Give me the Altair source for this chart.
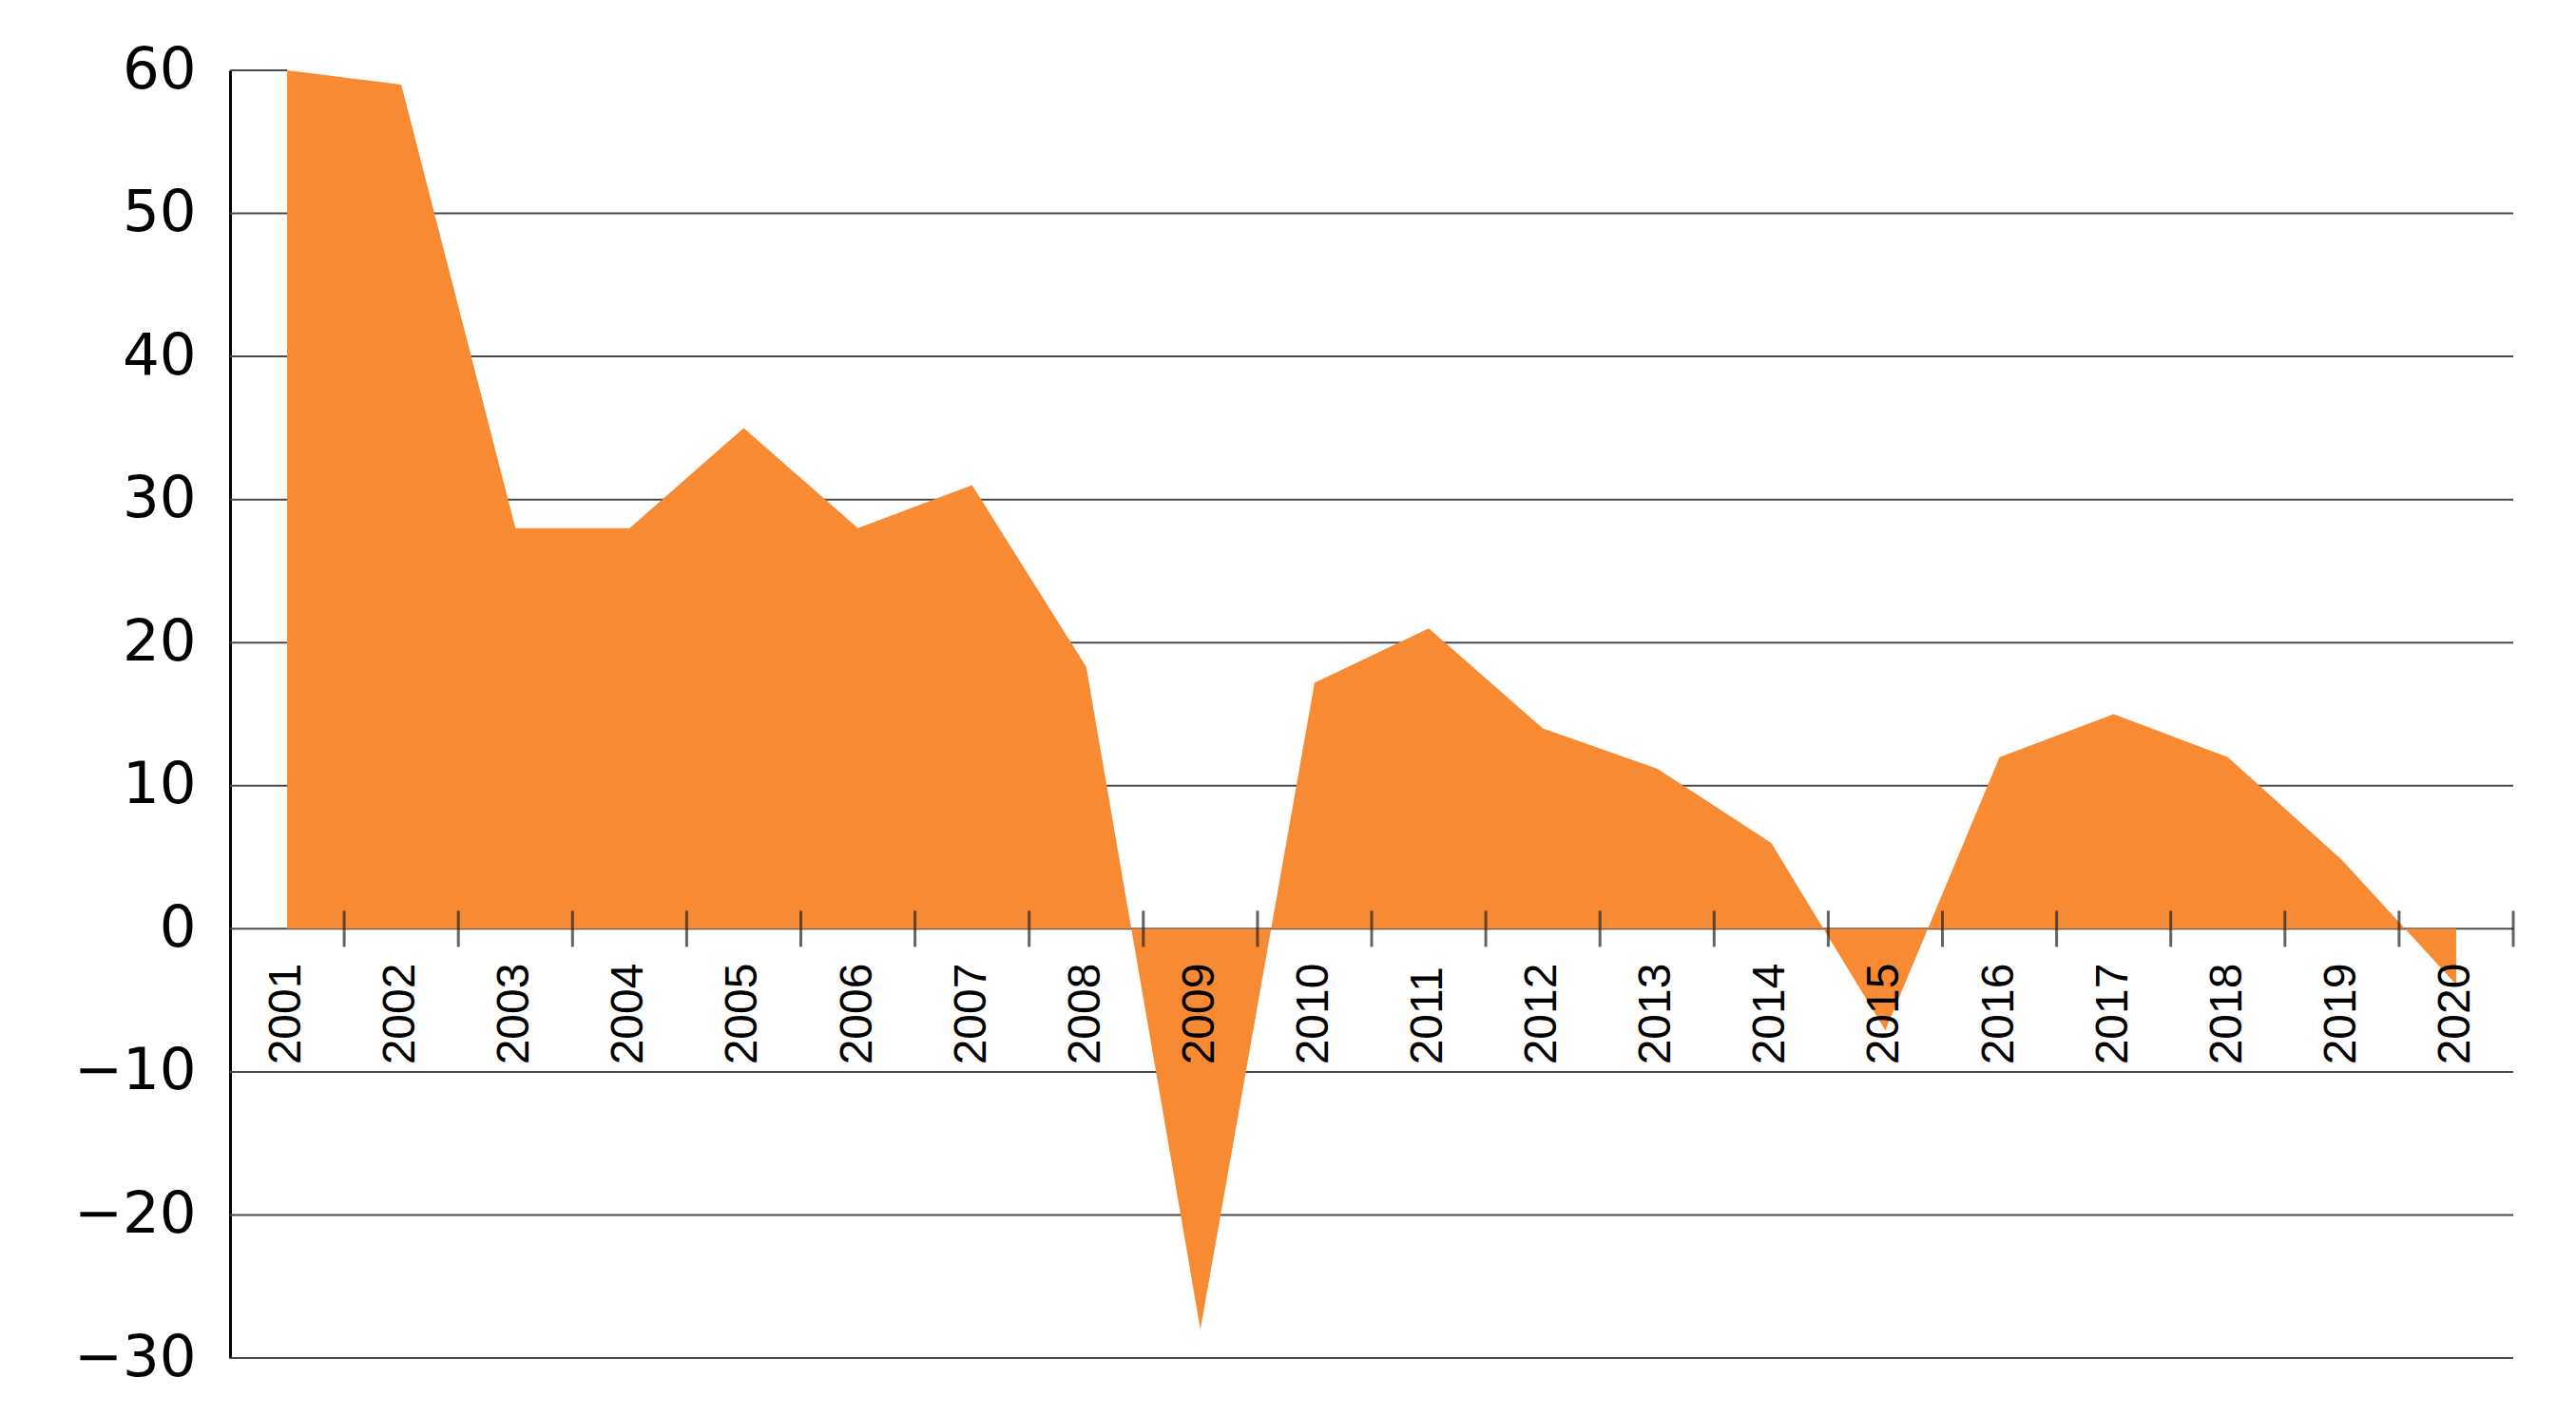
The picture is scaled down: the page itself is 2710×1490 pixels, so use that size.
import altair as alt
import pandas as pd

years = list(range(2001, 2021))
values = [60, 59, 28, 28, 35, 28, 31, 18.3, -28, 17.2, 21, 14, 11.2, 6, -7.1, 12, 15, 12, 4.8, -3.9]
y_ticks = [-30, -20, -10, 0, 10, 20, 30, 40, 50, 60]
grid_values = [-30, -20, -10, 0, 10, 20, 30, 40, 50]

df = pd.DataFrame({"year": years, "value": values, "label": [str(y) for y in years]})
grid_df = pd.DataFrame({"g": grid_values})

ORANGE = "#F88A33"
GRID = "#4a4a4a"

xscale = alt.Scale(domain=[2000.5, 2020.5], nice=False, zero=False)
yscale = alt.Scale(domain=[-30, 60], nice=False, zero=False)

y_axis = alt.Axis(values=y_ticks, title=None)

grid = alt.Chart(grid_df).mark_rule(color=GRID, strokeWidth=2).encode(
    y=alt.Y("g:Q", scale=yscale, axis=y_axis)
)

area = alt.Chart(df).mark_area(color=ORANGE, opacity=1).encode(
    x=alt.X("year:Q", scale=xscale, axis=None),
    y=alt.Y("value:Q", scale=yscale, title=None),
    y2=alt.Y2(datum=0),
)

stub = alt.Chart(df).transform_filter(alt.datum.year == years[0]).mark_rule(
    color=GRID, strokeWidth=2
).encode(
    x=alt.X("year:Q", scale=xscale, axis=None),
    x2=alt.value(0),
    y=alt.Y("value:Q", scale=yscale, title=None),
)

ticks = alt.Chart(df).transform_calculate(edge="datum.year + 0.5").mark_tick(
    orient="vertical", size=38, thickness=3, color="#222222"
).encode(
    x=alt.X("edge:Q", scale=xscale, axis=None),
    y=alt.Y(datum=0, type="quantitative", scale=yscale, title=None),
)

labels = alt.Chart(df).mark_text(
    angle=270, align="left", baseline="middle", font="Liberation Sans", fontSize=48, color="black"
).encode(
    x=alt.X("year:Q", scale=xscale, axis=None),
    y=alt.Y(datum=-9.5, type="quantitative", scale=yscale, title=None),
    text="label:N",
)

chart = (
    alt.layer(grid, area, stub, ticks, labels)
    .properties(
        width=2402,
        height=1355,
        autosize=alt.AutoSizeParams(type="none"),
        padding={"left": 234, "top": 66, "right": 30, "bottom": 50},
        background="white",
    )
    .configure_view(stroke=None)
    .configure_axisY(
        grid=False,
        ticks=False,
        domain=True,
        domainColor="black",
        domainWidth=3,
        labelFont="DejaVu Sans",
        labelFontSize=61,
        labelColor="black",
        labelPadding=36,
        labelFlush=False,
        labelOverlap=False,
    )
)

chart.save("out.html", embed_options={"renderer": "svg", "actions": False})
